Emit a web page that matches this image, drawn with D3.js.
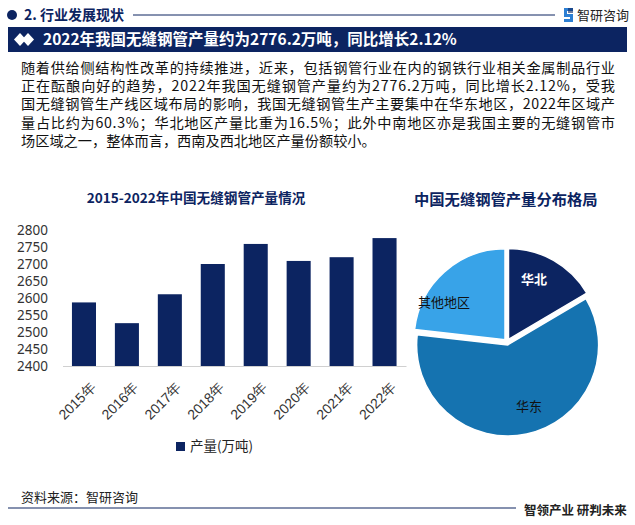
<!DOCTYPE html>
<html><head><meta charset="utf-8">
<script src="https://cdn.jsdelivr.net/npm/d3@7"></script>
<style>body{margin:0;background:#fff}svg{display:block;font-family:"Noto Sans CJK SC","Noto Sans",sans-serif}</style>
</head><body><svg id="c" width="635" height="525"></svg>
<script>
const years = ["2015年","2016年","2017年","2018年","2019年","2020年","2021年","2022年"];
const output = [2587, 2526, 2611, 2700, 2759, 2709, 2720, 2776.2];
const yTicks = [2400,2450,2500,2550,2600,2650,2700,2750,2800];
const regions = ["华北","华东","其他地区"];
const shares = [16.5, 60.3, 23.2];
const regionColors = ["#0c2461","#1573b0","#38a3e8"];
const paragraph = [
 "随着供给侧结构性改革的持续推进，近来，包括钢管行业在内的钢铁行业相关金属制品行业",
 "正在酝酿向好的趋势，2022年我国无缝钢管产量约为2776.2万吨，同比增长2.12%，受我",
 "国无缝钢管生产线区域布局的影响，我国无缝钢管生产主要集中在华东地区，2022年区域产",
 "量占比约为60.3%；华北地区产量比重为16.5%；此外中南地区亦是我国主要的无缝钢管市",
 "场区域之一，整体而言，西南及西北地区产量份额较小。"
];
const navy = "#0c2461";
const svg = d3.select("#c");

// header
svg.append("circle").attr("cx",12).attr("cy",15).attr("r",5).attr("fill",navy);
svg.append("text").attr("x",24).attr("y",20).attr("font-size",14).attr("font-weight","bold").attr("fill",navy).text("2. 行业发展现状");
svg.append("line").attr("x1",133).attr("x2",555).attr("y1",15).attr("y2",15).attr("stroke",navy).attr("stroke-width",1);
// logo icon
const lg = svg.append("g").attr("transform","translate(564,8)");
lg.append("path").attr("d","M0,0H9V3H3V6H9V14H0V11H6V9H0Z").attr("fill","#2d7fd3");
lg.append("path").attr("d","M4,0H9V5H4Z").attr("fill","#0c2461").attr("opacity",0.6);
svg.append("text").attr("x",577).attr("y",20).attr("font-size",13).attr("fill","#222").text("智研咨询");

// banner
svg.append("rect").attr("x",8).attr("y",27).attr("width",619).attr("height",25).attr("fill",navy);
svg.append("path").attr("d","M14,39.5 L20,33 L26,39.5 L20,46Z").attr("fill","#fff");
svg.append("path").attr("d","M22,39.5 L28,33 L34,39.5 L28,46Z").attr("fill","#fff");
svg.append("text").attr("x",43).attr("y",45).attr("font-size",15.5).attr("font-weight","bold").attr("fill","#fff")
  .text("2022年我国无缝钢管产量约为2776.2万吨，同比增长2.12%");

// paragraph
paragraph.forEach((l,i)=>{
  const t = svg.append("text").attr("x",21).attr("y",73+i*18.2).attr("font-size",14.2).attr("fill","#111").text(l);
  if(i<4) t.attr("textLength",594).attr("lengthAdjust","spacing");
});

// bar chart
svg.append("text").attr("x",196).attr("y",203).attr("text-anchor","middle").attr("font-size",13.6).attr("font-weight","bold").attr("fill",navy).text("2015-2022年中国无缝钢管产量情况");
const x = d3.scaleBand().domain(years).range([62.5,406]).paddingInner(0.44).paddingOuter(0.22);
const y = d3.scaleLinear().domain([2400,2800]).range([366,230]);
const yAxis = svg.append("g").attr("transform","translate(50,0)").call(d3.axisLeft(y).tickValues(yTicks).tickFormat(d3.format("d")).tickSize(0).tickPadding(2));
yAxis.select(".domain").remove();
yAxis.selectAll("text").attr("font-size",13.5).attr("fill","#333").attr("font-family","'Noto Sans','Noto Sans CJK SC',sans-serif");
svg.selectAll("rect.bar").data(output).join("rect").attr("class","bar")
  .attr("x",(d,i)=>x(years[i])).attr("width",x.bandwidth())
  .attr("y",d=>y(d)).attr("height",d=>y(2400)-y(d)).attr("fill",navy);
const xAxis = svg.append("g").attr("transform","translate(0,366)").call(d3.axisBottom(x).tickSize(0).tickPadding(0));
xAxis.select(".domain").attr("stroke","#d0d0d0").attr("stroke-width",1);
xAxis.selectAll("text").attr("font-size",14).attr("fill","#333").attr("text-anchor","end")
  .attr("x",0).attr("y",0).attr("dy","0.35em")
  .attr("transform","translate(9,19) rotate(-45)");
// legend
svg.append("rect").attr("x",176).attr("y",442).attr("width",9).attr("height",9).attr("fill",navy);
svg.append("text").attr("x",190).attr("y",451).attr("font-size",13.5).attr("fill","#222").text("产量(万吨)");

// pie
svg.append("text").attr("x",414).attr("y",205).attr("font-size",15.3).attr("font-weight","bold").attr("fill",navy).text("中国无缝钢管产量分布格局");
const pie = d3.pie().sort(null).value(d=>d)(shares);
const arc = d3.arc().innerRadius(0).outerRadius(91);
const pg = svg.append("g").attr("transform","translate(507,342)");
pg.selectAll("path").data(pie).join("path")
  .attr("d",arc).attr("fill",(d,i)=>regionColors[i])
  .attr("stroke","#fff").attr("stroke-width",1.5)
  .attr("transform",d=>{const a=(d.startAngle+d.endAngle)/2, o=3; return `translate(${Math.sin(a)*o},${-Math.cos(a)*o})`;});
const labelPos = [[27,-63],[22,64],[-63,-40]];
pg.selectAll("text").data(pie).join("text")
  .attr("x",(d,i)=>labelPos[i][0]).attr("y",(d,i)=>labelPos[i][1]).attr("text-anchor","middle").attr("dy","0.35em")
  .attr("font-size",13).attr("font-weight",(d,i)=>i===0?"bold":"normal")
  .attr("fill",(d,i)=>i===0?"#fff":"#111").text((d,i)=>regions[i]);

// footer
svg.append("text").attr("x",21).attr("y",502).attr("font-size",13).attr("fill","#222").text("资料来源：智研咨询");
svg.append("line").attr("x1",8).attr("x2",516).attr("y1",508).attr("y2",508).attr("stroke",navy).attr("stroke-width",1.2);
svg.append("text").attr("x",524).attr("y",515).attr("font-size",12.5).attr("font-weight","bold").attr("fill","#222").text("智领产业 研判未来");
</script></body></html>
